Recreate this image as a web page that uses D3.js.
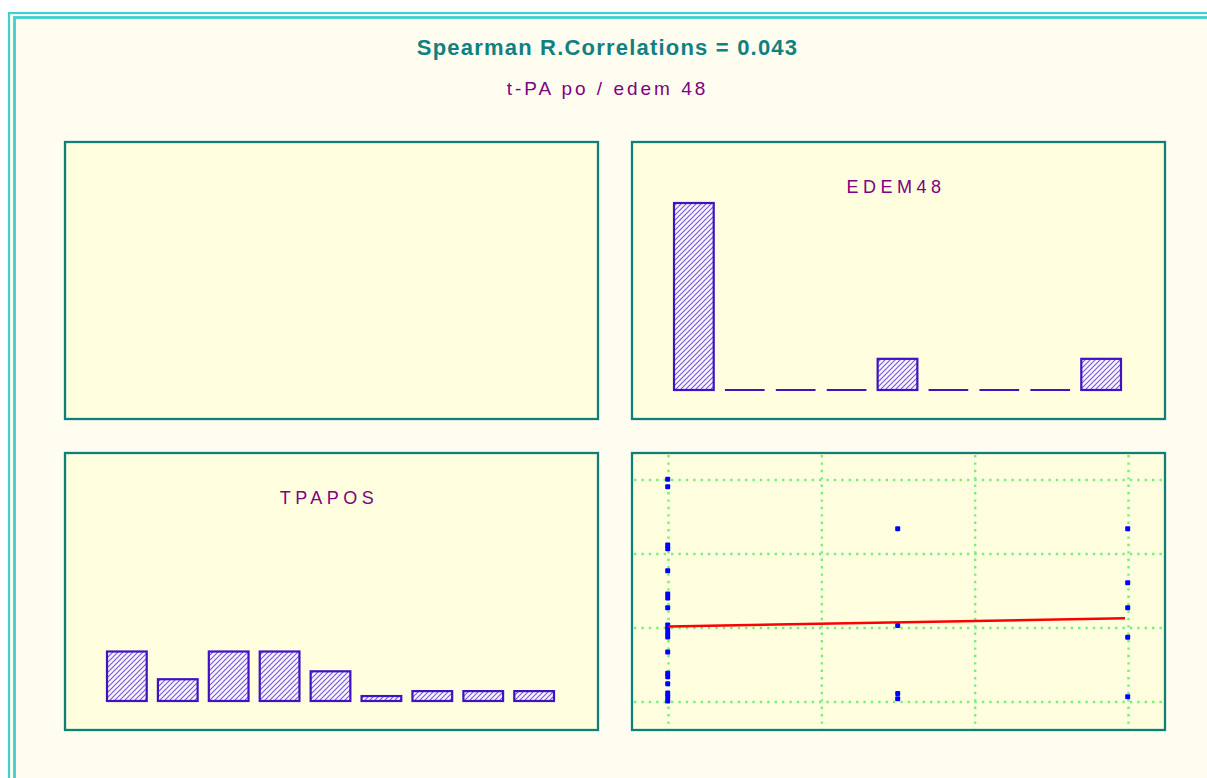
<!DOCTYPE html>
<html>
<head>
<meta charset="utf-8">
<script src="https://cdn.jsdelivr.net/npm/d3@7"></script>
<style>
  body { margin: 0; background: #ffffff; }
  svg { display: block; }
  text { font-family: "Liberation Sans", Arial, sans-serif; }
</style>
</head>
<body>
<script>
// chart values
var titleText = "Spearman R.Correlations = 0.043";
var subTitle = "t-PA po / edem 48";

// histogram of EDEM48 (9 bins)
var edemBins = ["b1", "b2", "b3", "b4", "b5", "b6", "b7", "b8", "b9"];
var edemCounts = [30, 0, 0, 0, 5, 0, 0, 0, 5];

// histogram of TPAPOS (9 bins)
var tpaBins = ["b1", "b2", "b3", "b4", "b5", "b6", "b7", "b8", "b9"];
var tpaCounts = [10, 4.4, 10, 10, 6, 1, 2, 2, 2];

// scatter: edem (x) vs tpa po (y)
var scatterX = [0, 0, 0, 0, 0, 0, 0, 0, 0, 0, 0, 0, 0, 0, 0, 0, 0, 0, 0,
                1, 1, 1, 1,
                2, 2, 2, 2, 2];
var scatterY = [60.2, 58.2, 42.4, 41.4, 35.5, 29.2, 28.1, 25.5, 20.8, 19.7, 18.6, 17.6, 13.5, 7.8, 6.8, 4.9, 2.4, 1.4, 0.3,
                46.8, 20.7, 2.3, 0.9,
                46.8, 32.2, 25.5, 17.5, 1.4];
var xGridTicks = [0, 2 / 3, 4 / 3, 2];
var yGridTicks = [0, 20, 40, 60];
// fitted line (intercept, slope)
var fitIntercept = 20.4;
var fitSlope = 1.12;

var width = 1207, height = 778;

var svg = d3.select("body").append("svg")
  .attr("width", width)
  .attr("height", height);

// hatch pattern for bars
var defs = svg.append("defs");
var pat = defs.append("pattern")
  .attr("id", "hatch")
  .attr("patternUnits", "userSpaceOnUse")
  .attr("width", 5)
  .attr("height", 5);
pat.append("rect").attr("width", 5).attr("height", 5).attr("fill", "#f8f6ff");
pat.append("path")
  .attr("d", "M-1,1 l2,-2 M0,5 l5,-5 M4,6 l2,-2")
  .attr("stroke", "#7656d8")
  .attr("stroke-width", 1.1);

// outer double frame
svg.append("rect")
  .attr("x", 9).attr("y", 13).attr("width", 1260).attr("height", 820)
  .attr("fill", "#fffdf0")
  .attr("stroke", "#3fd0d0").attr("stroke-width", 2.2);
svg.append("rect")
  .attr("x", 14.5).attr("y", 17.5).attr("width", 1260).attr("height", 820)
  .attr("fill", "none")
  .attr("stroke", "#3fd0d0").attr("stroke-width", 2.8);

// titles
svg.append("text")
  .attr("x", 607.5).attr("y", 55)
  .attr("text-anchor", "middle")
  .attr("font-size", 22).attr("font-weight", "bold")
  .attr("letter-spacing", 1.2)
  .attr("fill", "#108080")
  .text(titleText);
svg.append("text")
  .attr("x", 607.5).attr("y", 95)
  .attr("text-anchor", "middle")
  .attr("font-size", 19).attr("letter-spacing", 3)
  .attr("fill", "#800080")
  .text(subTitle);

// panels
var panels = [
  {x: 65, y: 142}, {x: 632, y: 142},
  {x: 65, y: 453}, {x: 632, y: 453}
];
var pw = 533, ph = 277;
svg.selectAll("rect.panel")
  .data(panels)
  .enter().append("rect")
  .attr("class", "panel")
  .attr("x", function(d) { return d.x; })
  .attr("y", function(d) { return d.y; })
  .attr("width", pw).attr("height", ph)
  .attr("fill", "#ffffe0")
  .attr("stroke", "#0e8078")
  .attr("stroke-width", 2.3);

// histogram drawer
function histogram(px, py, bins, counts, yMax, barTop, label) {
  var x = d3.scaleBand().domain(bins)
    .range([px + 42, px + 489]).paddingInner(0.22);
  var base = py + 248;
  var y = d3.scaleLinear().domain([0, yMax]).range([base, barTop]);
  var g = svg.append("g");
  var data = bins.map(function(b, i) { return {bin: b, v: counts[i]}; });

  g.selectAll("rect")
    .data(data.filter(function(d) { return d.v > 0; }))
    .enter().append("rect")
    .attr("x", function(d) { return x(d.bin); })
    .attr("y", function(d) { return y(d.v); })
    .attr("width", x.bandwidth())
    .attr("height", function(d) { return base - y(d.v); })
    .attr("fill", "url(#hatch)")
    .attr("stroke", "#4012c0")
    .attr("stroke-width", 2.2);

  g.selectAll("line")
    .data(data.filter(function(d) { return d.v === 0; }))
    .enter().append("line")
    .attr("x1", function(d) { return x(d.bin); })
    .attr("x2", function(d) { return x(d.bin) + x.bandwidth(); })
    .attr("y1", base).attr("y2", base)
    .attr("stroke", "#4012c0")
    .attr("stroke-width", 2.2);

  svg.append("text")
    .attr("x", px + 264).attr("y", py + 51)
    .attr("text-anchor", "middle")
    .attr("font-size", 18).attr("letter-spacing", 4.5)
    .attr("fill", "#800080")
    .text(label);
}

histogram(632, 142, edemBins, edemCounts, 30, 203, "EDEM48");
histogram(65, 453, tpaBins, tpaCounts, 10, 651.5, "TPAPOS");

// scatter panel
var sx = d3.scaleLinear().domain([0, 2]).range([668.5, 1128.5]);
var sy = d3.scaleLinear().domain([0, 60]).range([702, 480]);
var sg = svg.append("g");

sg.selectAll("line.vg")
  .data(xGridTicks)
  .enter().append("line")
  .attr("class", "vg")
  .attr("x1", function(d) { return sx(d); })
  .attr("x2", function(d) { return sx(d); })
  .attr("y1", 455).attr("y2", 729)
  .attr("stroke", "#78f078").attr("stroke-width", 2.4)
  .attr("stroke-dasharray", "2.4,5");

sg.selectAll("line.hg")
  .data(yGridTicks)
  .enter().append("line")
  .attr("class", "hg")
  .attr("x1", 634).attr("x2", 1164)
  .attr("y1", function(d) { return sy(d); })
  .attr("y2", function(d) { return sy(d); })
  .attr("stroke", "#78f078").attr("stroke-width", 2.4)
  .attr("stroke-dasharray", "2.4,5");

sg.selectAll("rect.pt")
  .data(scatterX.map(function(d, i) { return [d, scatterY[i]]; }))
  .enter().append("rect")
  .attr("class", "pt")
  .attr("x", function(d) { return sx(d[0]) - 3.3; })
  .attr("y", function(d) { return sy(d[1]) - 2.5; })
  .attr("width", 5).attr("height", 5)
  .attr("rx", 1)
  .attr("fill", "#0000ff");

sg.append("line")
  .attr("x1", sx(0)).attr("x2", sx(1.985))
  .attr("y1", sy(fitIntercept))
  .attr("y2", sy(fitIntercept + fitSlope * 1.985))
  .attr("stroke", "#ff0000").attr("stroke-width", 2.5);
</script>
</body>
</html>
